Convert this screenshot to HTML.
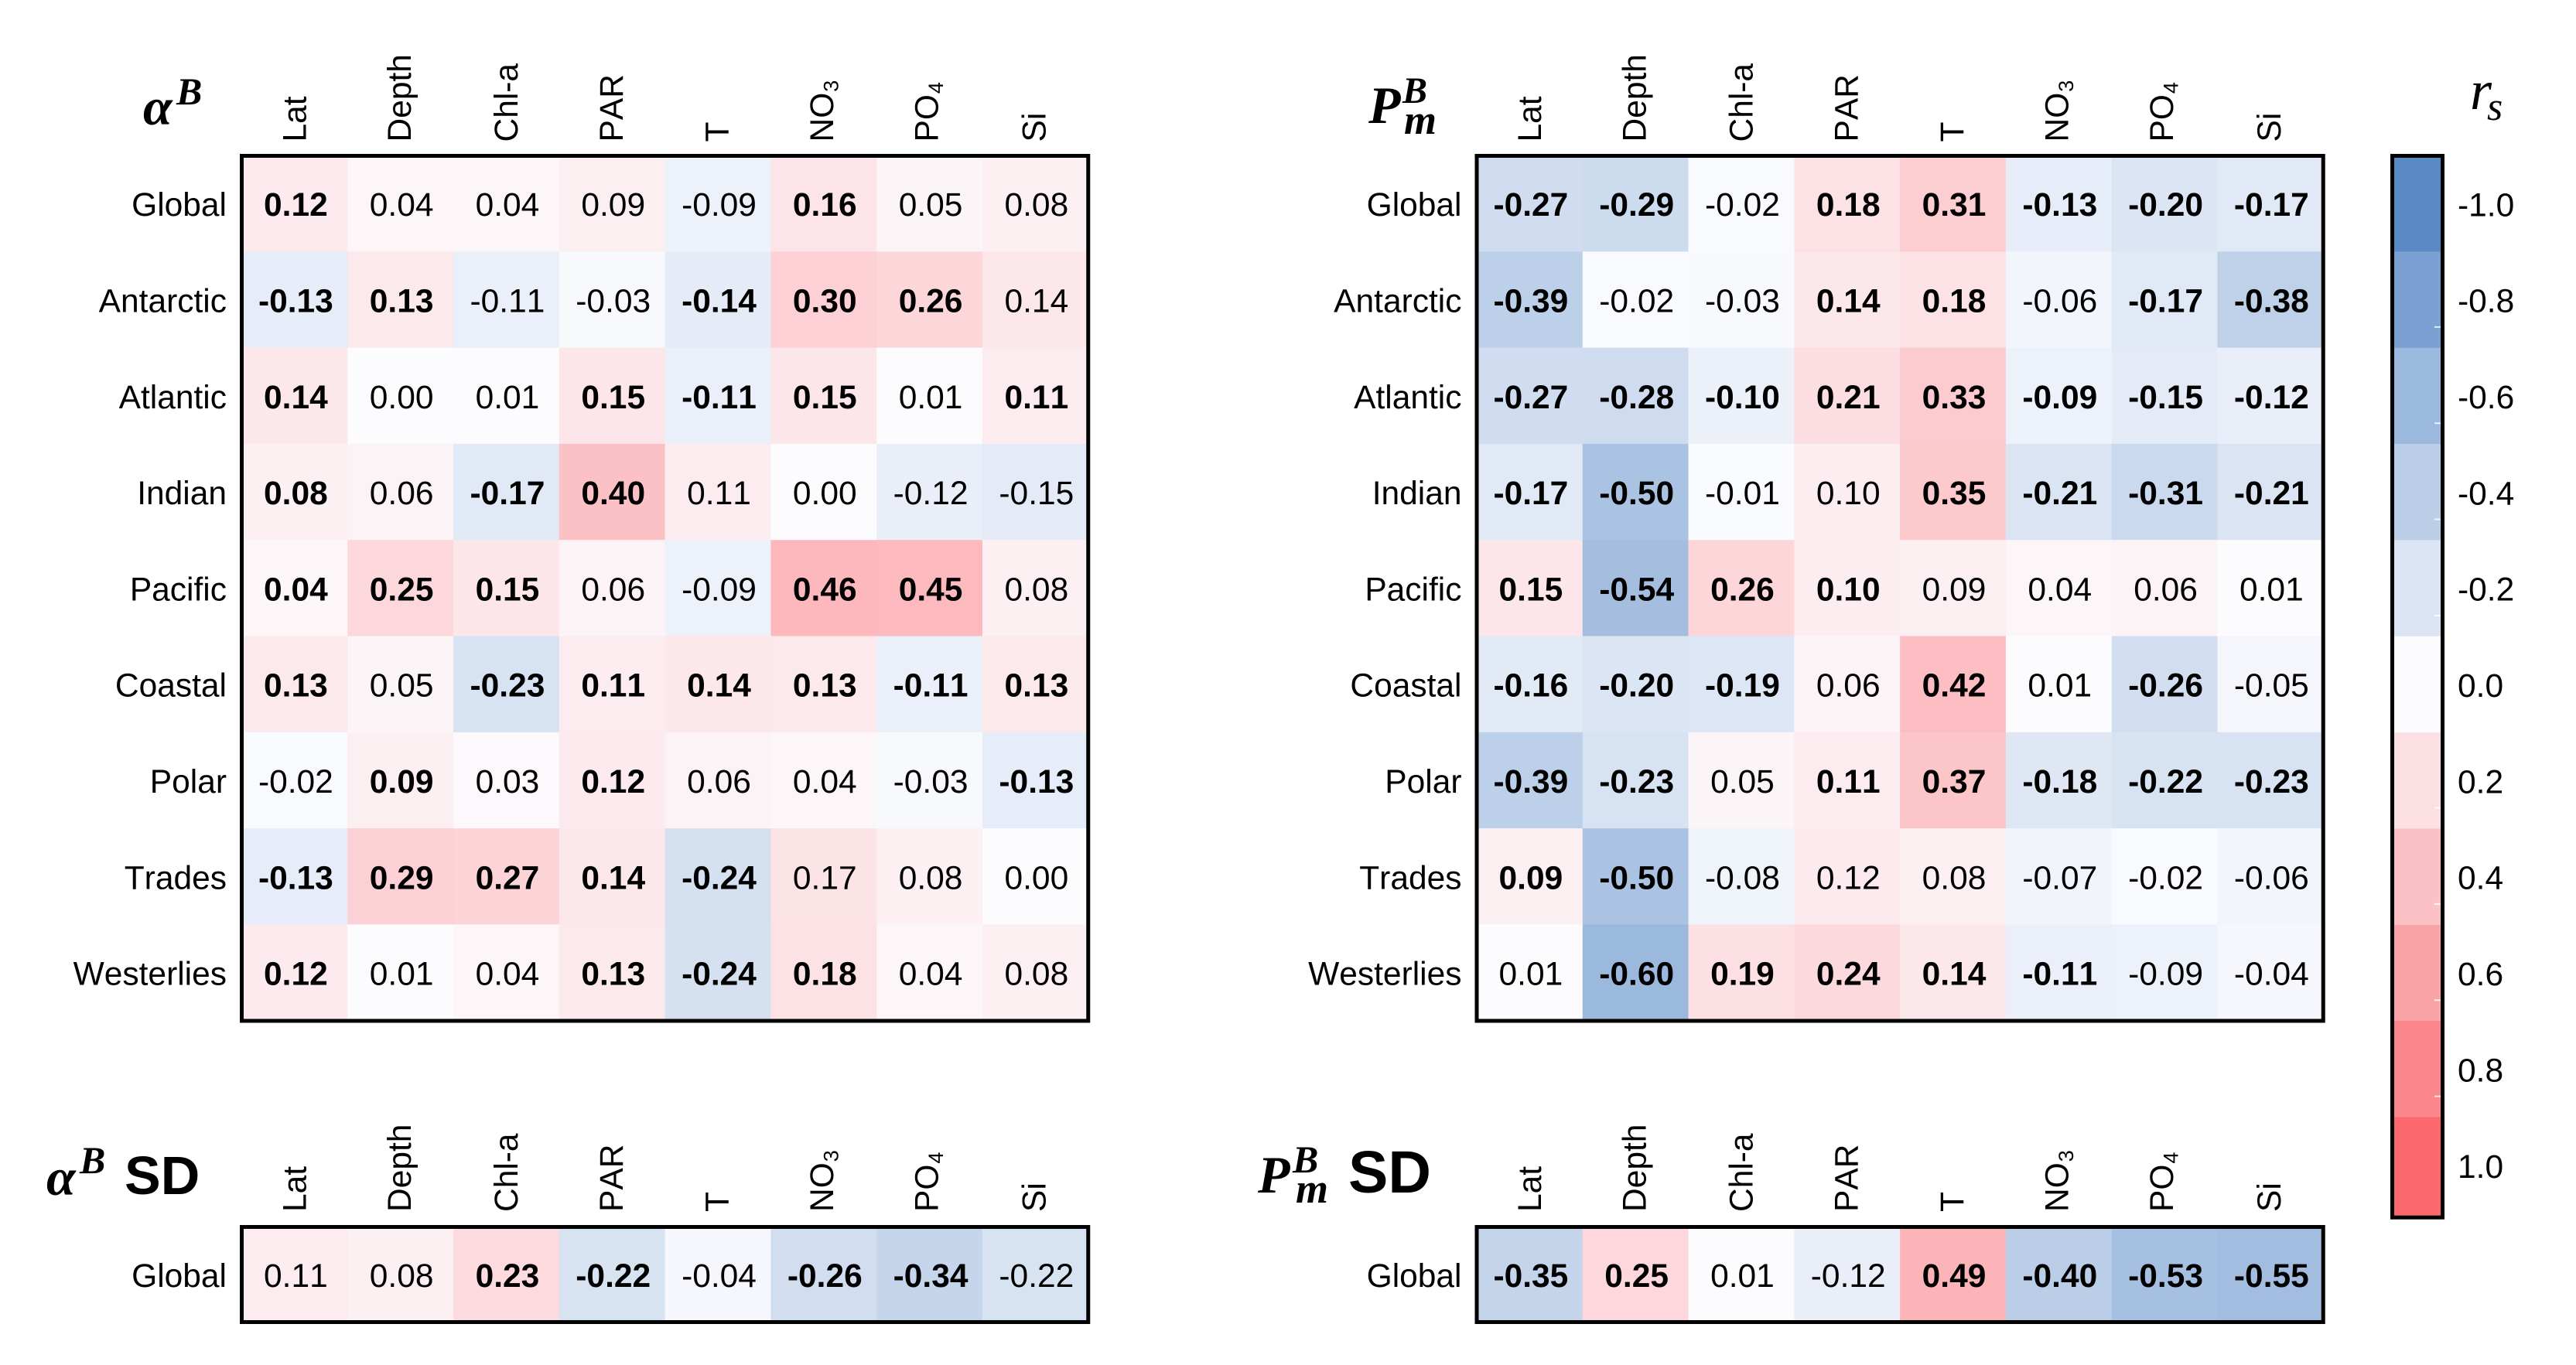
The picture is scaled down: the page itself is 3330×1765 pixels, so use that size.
<!DOCTYPE html>
<html lang="en">
<head>
<meta charset="utf-8">
<title>Spearman correlation heatmaps</title>
<style>
html,body{margin:0;padding:0;background:#fff;}
svg{display:block;}
text{font-family:"Liberation Sans",sans-serif;fill:#000;font-kerning:none;}
.math{font-family:"Liberation Serif",serif;}
</style>
</head>
<body>
<svg id="chart" xmlns="http://www.w3.org/2000/svg" width="3330" height="1765" viewBox="0 0 3330 1765">
  <rect x="0" y="0" width="3330" height="1765" fill="#fff"/>
  <g id="cells"></g>
  <g id="labels"></g>

  <g>
    <text class="math" x="185" y="161" font-size="68" font-weight="bold" font-style="italic">α</text>
    <text class="math" x="228" y="135" font-size="50" font-weight="bold" font-style="italic">B</text>
  </g>
  <g>
    <text class="math" x="1769" y="159" font-size="68" font-weight="bold" font-style="italic">P</text>
    <text class="math" x="1813" y="133" font-size="48" font-weight="bold" font-style="italic">B</text>
    <text class="math" x="1815" y="173" font-size="54" font-weight="bold" font-style="italic">m</text>
  </g>
  <g>
    <text class="math" x="60" y="1545" font-size="68" font-weight="bold" font-style="italic">α</text>
    <text class="math" x="103" y="1517" font-size="50" font-weight="bold" font-style="italic">B</text>
    <text x="161" y="1544" font-size="70" font-weight="bold">SD</text>
  </g>
  <g>
    <text class="math" x="1626" y="1542" font-size="68" font-weight="bold" font-style="italic">P</text>
    <text class="math" x="1671" y="1516" font-size="50" font-weight="bold" font-style="italic">B</text>
    <text class="math" x="1675" y="1555" font-size="54" font-weight="bold" font-style="italic">m</text>
    <text x="1743" y="1542" font-size="77" font-weight="bold">SD</text>
  </g>
  <g>
    <text class="math" x="3193" y="141" font-size="72" font-style="italic">r</text>
    <text class="math" x="3215" y="155" font-size="52" font-style="italic">s</text>
  </g>
  <g id="colorbar"></g>
  <g id="frames"></g>
</svg>

<script>
const variables = ["Lat", "Depth", "Chl-a", "PAR", "T", "NO3", "PO4", "Si"];
const regions = ["Global", "Antarctic", "Atlantic", "Indian", "Pacific", "Coastal", "Polar", "Trades", "Westerlies"];
const sdRegions = ["Global"];

const alphaBValues = [
  [0.12, 0.04, 0.04, 0.09, -0.09, 0.16, 0.05, 0.08],
  [-0.13, 0.13, -0.11, -0.03, -0.14, 0.30, 0.26, 0.14],
  [0.14, 0.00, 0.01, 0.15, -0.11, 0.15, 0.01, 0.11],
  [0.08, 0.06, -0.17, 0.40, 0.11, 0.00, -0.12, -0.15],
  [0.04, 0.25, 0.15, 0.06, -0.09, 0.46, 0.45, 0.08],
  [0.13, 0.05, -0.23, 0.11, 0.14, 0.13, -0.11, 0.13],
  [-0.02, 0.09, 0.03, 0.12, 0.06, 0.04, -0.03, -0.13],
  [-0.13, 0.29, 0.27, 0.14, -0.24, 0.17, 0.08, 0.00],
  [0.12, 0.01, 0.04, 0.13, -0.24, 0.18, 0.04, 0.08]
];
const alphaBSignificant = [
  [1, 0, 0, 0, 0, 1, 0, 0],
  [1, 1, 0, 0, 1, 1, 1, 0],
  [1, 0, 0, 1, 1, 1, 0, 1],
  [1, 0, 1, 1, 0, 0, 0, 0],
  [1, 1, 1, 0, 0, 1, 1, 0],
  [1, 0, 1, 1, 1, 1, 1, 1],
  [0, 1, 0, 1, 0, 0, 0, 1],
  [1, 1, 1, 1, 1, 0, 0, 0],
  [1, 0, 0, 1, 1, 1, 0, 0]
];
const pmBValues = [
  [-0.27, -0.29, -0.02, 0.18, 0.31, -0.13, -0.20, -0.17],
  [-0.39, -0.02, -0.03, 0.14, 0.18, -0.06, -0.17, -0.38],
  [-0.27, -0.28, -0.10, 0.21, 0.33, -0.09, -0.15, -0.12],
  [-0.17, -0.50, -0.01, 0.10, 0.35, -0.21, -0.31, -0.21],
  [0.15, -0.54, 0.26, 0.10, 0.09, 0.04, 0.06, 0.01],
  [-0.16, -0.20, -0.19, 0.06, 0.42, 0.01, -0.26, -0.05],
  [-0.39, -0.23, 0.05, 0.11, 0.37, -0.18, -0.22, -0.23],
  [0.09, -0.50, -0.08, 0.12, 0.08, -0.07, -0.02, -0.06],
  [0.01, -0.60, 0.19, 0.24, 0.14, -0.11, -0.09, -0.04]
];
const pmBSignificant = [
  [1, 1, 0, 1, 1, 1, 1, 1],
  [1, 0, 0, 1, 1, 0, 1, 1],
  [1, 1, 1, 1, 1, 1, 1, 1],
  [1, 1, 0, 0, 1, 1, 1, 1],
  [1, 1, 1, 1, 0, 0, 0, 0],
  [1, 1, 1, 0, 1, 0, 1, 0],
  [1, 1, 0, 1, 1, 1, 1, 1],
  [1, 1, 0, 0, 0, 0, 0, 0],
  [0, 1, 1, 1, 1, 1, 0, 0]
];
const alphaBSdValues = [[0.11, 0.08, 0.23, -0.22, -0.04, -0.26, -0.34, -0.22]];
const alphaBSdSignificant = [[0, 0, 1, 1, 0, 1, 1, 0]];
const pmBSdValues = [[-0.35, 0.25, 0.01, -0.12, 0.49, -0.40, -0.53, -0.55]];
const pmBSdSignificant = [[1, 1, 0, 0, 1, 1, 1, 1]];
const colorbarTicks = [-1.0, -0.8, -0.6, -0.4, -0.2, 0.0, 0.2, 0.4, 0.6, 0.8, 1.0];

const SVG_NS = "http://www.w3.org/2000/svg";
const cellsLayer = document.getElementById("cells");
const labelsLayer = document.getElementById("labels");
const framesLayer = document.getElementById("frames");
const colorbarLayer = document.getElementById("colorbar");

const COL_W = 136.78;
const FONT = 42.5;
const labelNudge = { "Lat": 14.5, "Depth": 13.3, "Chl-a": 14.5, "PAR": 14, "T": 13.5, "NO3": 12, "PO4": 10.8, "Si": 13 };

function lerp(a, b, t) { return a + (b - a) * t; }
function colorScale(v) {
  const zero = [252, 252, 255];
  const end = v < 0 ? [90, 138, 198] : [251, 105, 110];
  const t = Math.min(1, Math.abs(v));
  const rgb = zero.map(function (c, i) { return Math.round(lerp(c, end[i], t)); });
  return "rgb(" + rgb.join(",") + ")";
}
function xScale(left, col) { return left + col * COL_W; }
function yScale(top, rowH, row) { return top + row * rowH; }
function cbY(v) { return 201 + ((v + 1) / 0.2) * 124.35; }

function drawPanel(panelName, left, top, rowH, frameBottom, rowNames, values, significant, labelBase) {
  rowNames.forEach(function (rowName, r) {
    const y = yScale(top, rowH, r);
    const rowLabel = document.createElementNS(SVG_NS, "text");
    rowLabel.setAttribute("x", left - 19.5);
    rowLabel.setAttribute("y", y + rowH / 2 + 16);
    rowLabel.setAttribute("text-anchor", "end");
    rowLabel.setAttribute("font-size", FONT);
    rowLabel.textContent = rowName;
    
    
    labelsLayer.appendChild(rowLabel);

    variables.forEach(function (varName, c) {
      const v = values[r][c];
      const x = xScale(left, c);
      const cell = document.createElementNS(SVG_NS, "rect");
      cell.setAttribute("x", x);
      cell.setAttribute("y", y);
      cell.setAttribute("width", COL_W + 0.3);
      cell.setAttribute("height", rowH + 0.3);
      cell.setAttribute("fill", colorScale(v));
      
      
      cellsLayer.appendChild(cell);

      const txt = document.createElementNS(SVG_NS, "text");
      txt.setAttribute("x", x + COL_W / 2 + 1.5);
      txt.setAttribute("y", y + rowH / 2 + 16);
      txt.setAttribute("text-anchor", "middle");
      txt.setAttribute("font-size", FONT);
      if (significant[r][c]) { txt.setAttribute("font-weight", "bold"); }
      txt.textContent = v.toFixed(2);
      
      
      labelsLayer.appendChild(txt);
    });
  });

  variables.forEach(function (varName, c) {
    const cx = xScale(left, c) + COL_W / 2;
    const bx = cx + labelNudge[varName];
    const t = document.createElementNS(SVG_NS, "text");
    t.setAttribute("transform", "translate(" + bx + "," + labelBase + ") rotate(-90)");
    t.setAttribute("font-size", FONT);
    const m = varName.match(/^([A-Z]+)(\d)$/);
    if (m) {
      t.appendChild(document.createTextNode(m[1]));
      const sub = document.createElementNS(SVG_NS, "tspan");
      sub.setAttribute("dy", "6.5");
      sub.setAttribute("dx", "1");
      sub.setAttribute("font-size", "27");
      sub.textContent = m[2];
      t.appendChild(sub);
    } else {
      t.textContent = varName;
    }
    
    
    labelsLayer.appendChild(t);
  });

  const frame = document.createElementNS(SVG_NS, "rect");
  frame.setAttribute("x", left);
  frame.setAttribute("y", top + 0.5);
  frame.setAttribute("width", COL_W * 8);
  frame.setAttribute("height", frameBottom - top - 0.5);
  frame.setAttribute("fill", "none");
  frame.setAttribute("stroke", "#000");
  frame.setAttribute("stroke-width", "5");
  
  
  framesLayer.appendChild(frame);
}

drawPanel("alpha-b", 312.5, 201, 124.3, 1320, regions, alphaBValues, alphaBSignificant, 183.5);
drawPanel("pm-b", 1909, 201, 124.3, 1320, regions, pmBValues, pmBSignificant, 183.5);
drawPanel("alpha-b-sd", 312.5, 1586, 123.5, 1709.5, sdRegions, alphaBSdValues, alphaBSdSignificant, 1567);
drawPanel("pm-b-sd", 1909, 1586, 123.5, 1709.5, sdRegions, pmBSdValues, pmBSdSignificant, 1567);

colorbarTicks.forEach(function (v, i) {
  const y = cbY(v);
  const last = i === colorbarTicks.length - 1;
  const seg = document.createElementNS(SVG_NS, "rect");
  seg.setAttribute("x", 3092.5);
  seg.setAttribute("y", y);
  seg.setAttribute("width", 65);
  seg.setAttribute("height", last ? 130 : 124.7);
  seg.setAttribute("fill", colorScale(v));
  
  
  colorbarLayer.appendChild(seg);

  if (i > 0 && !last) {
    const speck = document.createElementNS(SVG_NS, "rect");
    speck.setAttribute("x", 3147);
    speck.setAttribute("y", y + 96.5);
    speck.setAttribute("width", 8);
    speck.setAttribute("height", 2);
    speck.setAttribute("fill", "#fff");
    speck.setAttribute("opacity", "0.8");
    
    
    colorbarLayer.appendChild(speck);
  }

  const lab = document.createElementNS(SVG_NS, "text");
  lab.setAttribute("x", 3177);
  lab.setAttribute("y", y + 62.25 + 16);
  lab.setAttribute("font-size", FONT);
  lab.textContent = v.toFixed(1);
  
  
  colorbarLayer.appendChild(lab);
});

const cbFrame = document.createElementNS(SVG_NS, "rect");
cbFrame.setAttribute("x", 3092.5);
cbFrame.setAttribute("y", 201.5);
cbFrame.setAttribute("width", 65);
cbFrame.setAttribute("height", 1372.7);
cbFrame.setAttribute("fill", "none");
cbFrame.setAttribute("stroke", "#000");
cbFrame.setAttribute("stroke-width", "5");


colorbarLayer.appendChild(cbFrame);
</script>
</body>
</html>
